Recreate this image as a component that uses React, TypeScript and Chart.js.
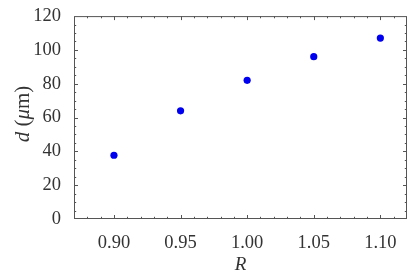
import React, { useEffect, useRef } from "react";
import { Chart, registerables } from "chart.js";

Chart.register(...registerables);

const xValues = [0.9, 0.95, 1.0, 1.05, 1.1];
const yValues = [37.7, 64, 82, 96, 107];
const xTicks = [0.9, 0.95, 1.0, 1.05, 1.1];
const yTicks = [0, 20, 40, 60, 80, 100, 120];
const xMinorStep = 0.01;
const yMinorStep = 5;
const xMin = 0.87;
const xMax = 1.12;
const yMin = 0;
const yMax = 120;

const FONT = "'Liberation Serif', 'DejaVu Serif', serif";

const framePlugin = {
  id: "frameTicks",
  afterDraw(chart: any) {
    const { ctx, chartArea } = chart;
    const xs = chart.scales.x;
    const ys = chart.scales.y;
    const { left, right, top, bottom } = chartArea;
    ctx.save();
    ctx.strokeStyle = "#555";
    ctx.lineWidth = 1;
    ctx.strokeRect(left + 0.5, top + 0.5, right - left - 1, bottom - top - 1);
    const major = 4;
    const minor = 2.2;
    ctx.beginPath();
    const nx = Math.round((xMax - xMin) / xMinorStep);
    for (let i = 0; i <= nx; i++) {
      const v = xMin + i * xMinorStep;
      const isMajor = xTicks.some((t) => Math.abs(t - v) < 1e-6);
      const px = Math.round(xs.getPixelForValue(v)) + 0.5;
      if (px <= left + 1 || px >= right - 1) continue;
      const len = isMajor ? major : minor;
      ctx.moveTo(px, bottom);
      ctx.lineTo(px, bottom - len);
      ctx.moveTo(px, top);
      ctx.lineTo(px, top + len);
    }
    const ny = Math.round((yMax - yMin) / yMinorStep);
    for (let i = 0; i <= ny; i++) {
      const v = yMin + i * yMinorStep;
      const isMajor = yTicks.some((t) => Math.abs(t - v) < 1e-6);
      const py = Math.round(ys.getPixelForValue(v)) + 0.5;
      if (py <= top + 1 || py >= bottom - 1) continue;
      const len = isMajor ? major : minor;
      ctx.moveTo(left, py);
      ctx.lineTo(left + len, py);
      ctx.moveTo(right, py);
      ctx.lineTo(right - len, py);
    }
    ctx.stroke();

    ctx.fillStyle = "#333";
    ctx.textBaseline = "alphabetic";
    ctx.font = `italic 19px ${FONT}`;
    ctx.textAlign = "center";
    ctx.fillText("R", (left + right) / 2, 270);

    ctx.save();
    ctx.translate(29, 114);
    ctx.rotate(-Math.PI / 2);
    const parts = [
      { t: "d", it: true },
      { t: " (", it: false },
      { t: "μ", it: true },
      { t: "m)", it: false },
    ];
    const size = 21;
    let total = 0;
    for (const p of parts) {
      ctx.font = `${p.it ? "italic " : ""}${size}px ${FONT}`;
      total += ctx.measureText(p.t).width;
    }
    let x0 = -total / 2;
    ctx.textAlign = "left";
    for (const p of parts) {
      ctx.font = `${p.it ? "italic " : ""}${size}px ${FONT}`;
      ctx.fillText(p.t, x0, 0);
      x0 += ctx.measureText(p.t).width;
    }
    ctx.restore();
    ctx.restore();
  },
};

export default function App() {
  const ref = useRef<HTMLCanvasElement>(null);
  useEffect(() => {
    if (!ref.current) return;
    const chart = new Chart(ref.current, {
      type: "scatter",
      data: {
        datasets: [
          {
            data: xValues.map((x, i) => ({ x, y: yValues[i] })),
            backgroundColor: "#0000f0",
            borderColor: "#0000f0",
            pointRadius: 3.6,
            pointHoverRadius: 3.6,
            borderWidth: 0,
          },
        ],
      },
      plugins: [framePlugin],
      options: {
        animation: false,
        responsive: false,
        maintainAspectRatio: false,
        layout: { padding: { top: 13, right: 8, left: 0, bottom: 0 } },
        plugins: { legend: { display: false }, tooltip: { enabled: false } },
        scales: {
          x: {
            type: "linear",
            min: xMin,
            max: xMax,
            grid: { display: false },
            border: { display: false },
            afterBuildTicks: (s: any) => {
              s.ticks = xTicks.map((v) => ({ value: v }));
            },
            afterFit: (s: any) => {
              s.height = 56;
            },
            ticks: {
              padding: 5,
              color: "#333",
              font: { family: FONT, size: 18.5 },
              maxRotation: 0,
              autoSkip: false,
              callback: (v: any) => Number(v).toFixed(2),
            },
          },
          y: {
            type: "linear",
            min: yMin,
            max: yMax,
            grid: { display: false },
            border: { display: false },
            afterBuildTicks: (s: any) => {
              s.ticks = yTicks.map((v) => ({ value: v }));
            },
            afterFit: (s: any) => {
              s.width = 74;
            },
            ticks: {
              padding: 5,
              color: "#333",
              font: { family: FONT, size: 18.5 },
              autoSkip: false,
              callback: (v: any) => String(v),
            },
          },
        },
      },
    });
    return () => chart.destroy();
  }, []);
  return (
    <div style={{ position: "absolute", left: 0, top: 0, width: 415, height: 275, background: "#fff" }}>
      <canvas ref={ref} width={415} height={275} style={{ width: 415, height: 275 }} />
    </div>
  );
}
